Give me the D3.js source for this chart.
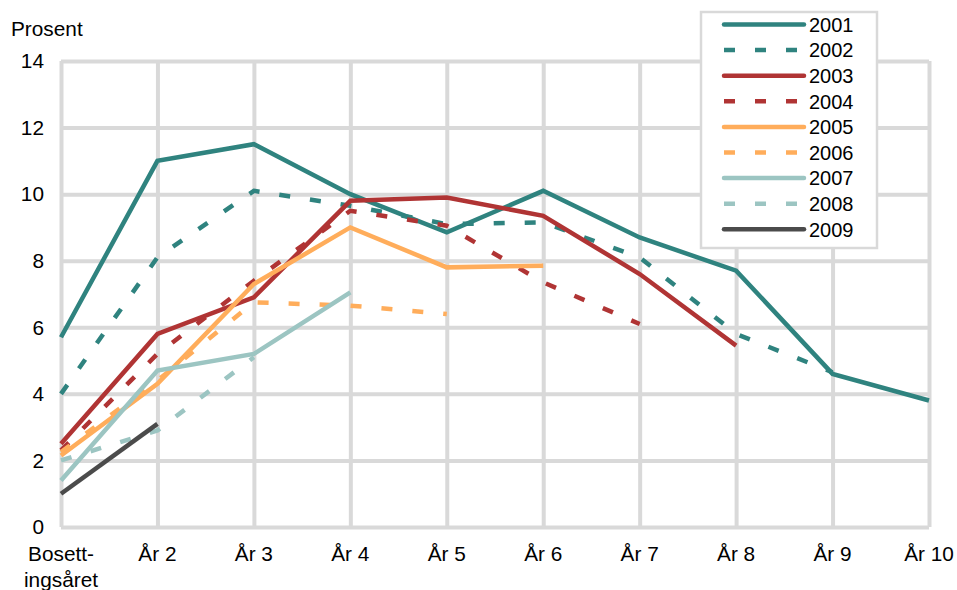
<!DOCTYPE html>
<html>
<head>
<meta charset="utf-8">
<script src="https://cdn.jsdelivr.net/npm/d3@7"></script>
<style>
  body { margin: 0; background: #fff; }
  text { font-family: "Liberation Sans", Arial, sans-serif; font-size: 20.8px; fill: #000; }
  .legend text { font-size: 20px; }
</style>
</head>
<body>
<div id="chart"></div>
<script>
// categories along the bottom axis (first one is split over two lines)
const categories = ['Bosettingsåret', 'År 2', 'År 3', 'År 4', 'År 5', 'År 6', 'År 7', 'År 8', 'År 9', 'År 10'];
const categoryLabels = [['Bosett-', 'ingsåret'], ['År 2'], ['År 3'], ['År 4'], ['År 5'], ['År 6'], ['År 7'], ['År 8'], ['År 9'], ['År 10']];
const yTicks = [0, 2, 4, 6, 8, 10, 12, 14];

// series values (percent)
const years = ['2001', '2002', '2003', '2004', '2005', '2006', '2007', '2008', '2009'];
const v2001 = [5.7, 11.0, 11.5, 10.0, 8.85, 10.1, 8.7, 7.7, 4.6, 3.8];
const v2002 = [4.0, 8.1, 10.1, 9.65, 9.1, 9.15, 8.1, 5.8, 4.65];
const v2003 = [2.5, 5.8, 6.9, 9.8, 9.9, 9.35, 7.6, 5.45];
const v2004 = [2.3, 5.2, 7.4, 9.5, 9.05, 7.35, 6.1];
const v2005 = [2.15, 4.3, 7.3, 9.0, 7.8, 7.85];
const v2006 = [2.25, 4.4, 6.75, 6.65, 6.4];
const v2007 = [1.4, 4.7, 5.2, 7.05];
const v2008 = [2.0, 2.9, 5.1];
const v2009 = [1.0, 3.1];

const seriesValues = [v2001, v2002, v2003, v2004, v2005, v2006, v2007, v2008, v2009];
const colors = ['#2f837f', '#2f837f', '#b03434', '#b03434', '#ffad5b', '#ffad5b', '#9cc5c2', '#9cc5c2', '#4b4b4b'];
const dashed = [false, true, false, true, false, true, false, true, false];

const width = 957, height = 590;
const margin = {top: 61, right: 28, bottom: 63, left: 61};

const svg = d3.select('#chart').append('svg')
    .attr('width', width)
    .attr('height', height);

const x = d3.scalePoint()
    .domain(categories)
    .range([margin.left, width - margin.right]);
const y = d3.scaleLinear()
    .domain([0, 14])
    .range([height - margin.bottom, margin.top]);

const gridColor = '#d9d9d9';

// horizontal grid
svg.append('g')
    .attr('class', 'grid y')
    .attr('transform', 'translate(' + margin.left + ',0)')
    .call(d3.axisLeft(y).tickValues(yTicks).tickSize(-(width - margin.right - margin.left)).tickFormat(''))
    .call(g => g.select('.domain').remove())
    .selectAll('line')
    .attr('stroke', gridColor)
    .attr('stroke-width', 4);

// vertical grid
svg.append('g')
    .attr('class', 'grid x')
    .attr('transform', 'translate(0,' + margin.top + ')')
    .call(d3.axisBottom(x).tickSize(height - margin.bottom - margin.top).tickFormat(''))
    .call(g => g.select('.domain').remove())
    .selectAll('line')
    .attr('stroke', gridColor)
    .attr('stroke-width', 4);

// y tick labels
svg.append('g')
    .selectAll('text')
    .data(yTicks)
    .join('text')
    .attr('x', 44)
    .attr('y', d => y(d))
    .attr('dy', '0.35em')
    .style('text-anchor', 'end')
    .text(d => d);

// y axis title
svg.append('text')
    .attr('x', 11)
    .attr('y', 36)
    .text('Prosent');

// x tick labels
const xl = svg.append('g')
    .selectAll('text')
    .data(categories)
    .join('text')
    .attr('x', d => x(d))
    .attr('y', 561)
    .style('text-anchor', 'middle');
xl.selectAll('tspan')
    .data((d, i) => categoryLabels[i])
    .join('tspan')
    .attr('x', function() { return d3.select(this.parentNode).attr('x'); })
    .attr('dy', (d, i) => i === 0 ? 0 : 26)
    .text(d => d);

// lines
const line = d3.line()
    .x((d, i) => x(categories[i]))
    .y(d => y(d));

seriesValues.forEach(function(vals, i) {
    svg.append('path')
        .datum(vals)
        .attr('fill', 'none')
        .attr('stroke', colors[i])
        .attr('stroke-width', 4.5)
        .attr('stroke-linejoin', 'miter')
        .attr('stroke-dasharray', dashed[i] ? '11,20' : null)
        .attr('d', line);
});

// legend
const legend = svg.append('g').attr('class', 'legend');
legend.append('rect')
    .attr('x', 701)
    .attr('y', 12)
    .attr('width', 176)
    .attr('height', 236)
    .attr('fill', '#fff')
    .attr('stroke', gridColor)
    .attr('stroke-width', 2.5);

const items = legend.selectAll('.item')
    .data(years)
    .join('g')
    .attr('class', 'item')
    .attr('transform', (d, i) => 'translate(0,' + (24.5 + i * 25.6) + ')');

items.append('line')
    .attr('x1', 724)
    .attr('x2', (d, i) => dashed[i] ? 806 : 804)
    .attr('stroke', (d, i) => colors[i])
    .attr('stroke-width', 4.5)
    .attr('stroke-linecap', (d, i) => dashed[i] ? 'butt' : 'round')
    .attr('stroke-dasharray', (d, i) => dashed[i] ? '11,20' : null);

items.append('text')
    .attr('x', 809)
    .attr('dy', '0.36em')
    .text(d => d);
</script>
</body>
</html>
